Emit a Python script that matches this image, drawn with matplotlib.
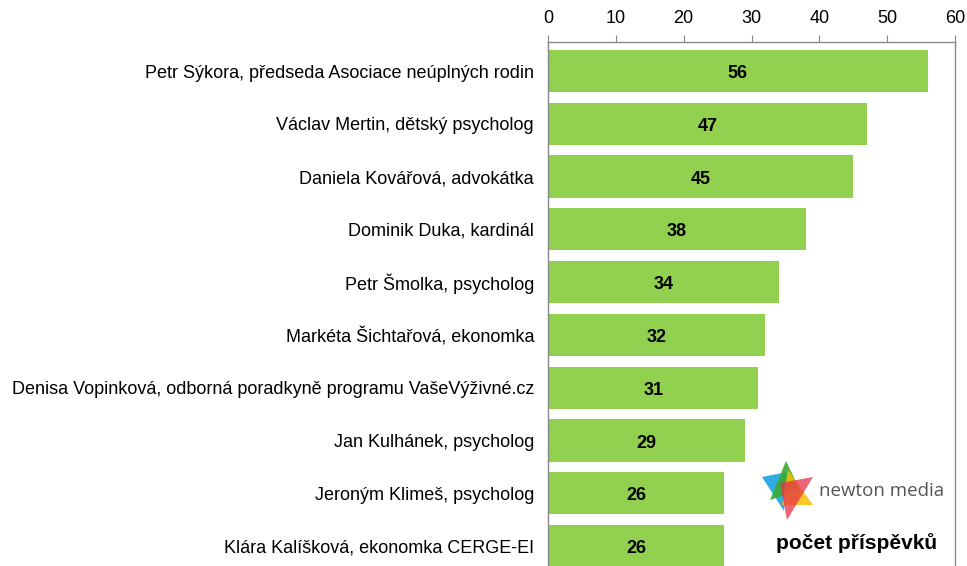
import matplotlib
matplotlib.use("Agg")
import matplotlib.pyplot as plt
from matplotlib.patches import Polygon

plt.rcParams['font.family'] = ['Liberation Sans', 'DejaVu Sans']

categories = [
    "Petr Sýkora, předseda Asociace neúplných rodin",
    "Václav Mertin, dětský psycholog",
    "Daniela Kovářová, advokátka",
    "Dominik Duka, kardinál",
    "Petr Šmolka, psycholog",
    "Markéta Šichtařová, ekonomka",
    "Denisa Vopinková, odborná poradkyně programu VašeVýživné.cz",
    "Jan Kulhánek, psycholog",
    "Jeroným Klimeš, psycholog",
    "Klára Kalíšková, ekonomka CERGE-EI",
]
values = [56, 47, 45, 38, 34, 32, 31, 29, 26, 26]
ticks = [0, 10, 20, 30, 40, 50, 60]

W, H = 967, 566
fig = plt.figure(figsize=(W / 100, H / 100), dpi=100)
ax = fig.add_axes([548 / W, 0, (955 - 548) / W, 1 - 42 / H])

y = list(range(len(categories)))
ax.barh(y, values, height=0.8, color='#92D050', edgecolor='none', zorder=2)
for yi, v in zip(y, values):
    ax.text(v / 2, yi + 0.05, str(v), ha='center', va='center', fontsize=13,
            fontweight='bold', color='black', zorder=3)

ax.set_xlim(0, 60)
ax.set_ylim(9.38, -0.55)
ax.set_yticks(y)
ax.set_yticklabels(categories, fontsize=13)
ax.set_xticks(ticks)
ax.xaxis.tick_top()
ax.tick_params(axis='x', direction='out', length=5, color='#888888',
               labelsize=13, pad=6, top=True, bottom=False)
ax.tick_params(axis='y', length=0, pad=10)
for s in ['top', 'left', 'right']:
    ax.spines[s].set_color('#888888')
    ax.spines[s].set_linewidth(1)
ax.spines['bottom'].set_visible(False)

# overlay for logo and caption
ov = fig.add_axes([0, 0, 1, 1], facecolor='none')
ov.set_xlim(0, W)
ov.set_ylim(H, 0)
ov.axis('off')
tris = [
    ([(762, 477), (787, 472), (784, 511)], '#1ba1e2', 0.9),
    ([(786, 461), (770, 500), (800, 490)], '#3aaa35', 0.9),
    ([(788, 470), (813, 505), (782, 505)], '#f9c000', 0.85),
    ([(780, 483), (813, 477), (787, 520)], '#e6334a', 0.75),
]
for pts, c, a in tris:
    ov.add_patch(Polygon(pts, closed=True, facecolor=c, edgecolor='none', alpha=a))
ov.text(819, 491, "newton media", fontsize=13.5, color='#555555',
        ha='left', va='center', family=['Open Sans', 'DejaVu Sans'])
ov.text(857, 543, "počet příspěvků", fontsize=15, fontweight='bold',
        color='black', ha='center', va='center')

fig.savefig("out.png", dpi=100)
